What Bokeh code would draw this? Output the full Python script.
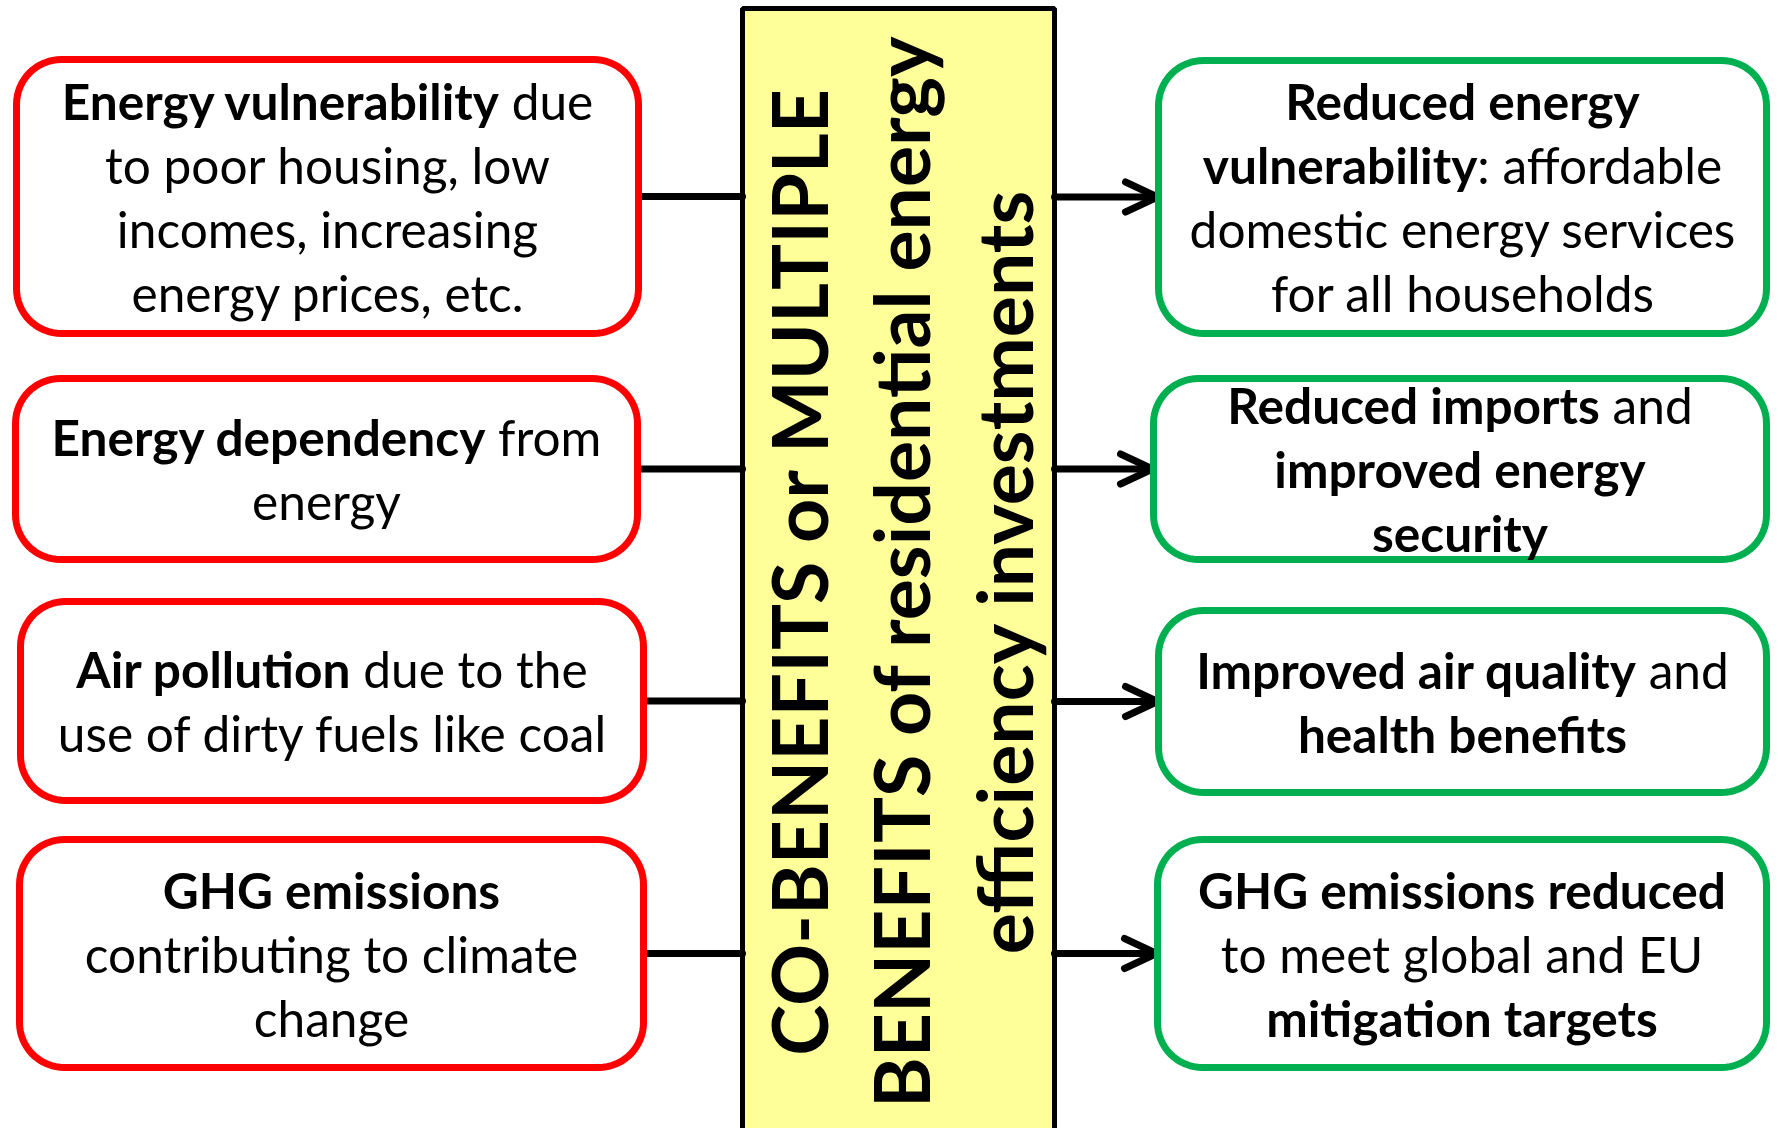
import os
import subprocess
import math
from bokeh.plotting import figure
from bokeh.models import Range1d, ColumnDataSource
from bokeh.core.properties import value
from bokeh.embed import file_html
from bokeh.resources import INLINE

# ---------------- texts (data) ----------------
left_texts = [
    ["**Energy vulnerability** due", "to poor housing, low", "incomes, increasing", "energy prices, etc."],
    ["**Energy dependency** from", "energy"],
    ["**Air pollution** due to the", "use of dirty fuels like coal"],
    ["**GHG emissions**", "contributing to climate", "change"],
]
right_texts = [
    ["**Reduced energy**", "**vulnerability**: affordable", "domestic energy services", "for all households"],
    ["**Reduced imports** and", "**improved energy**", "**security**"],
    ["**Improved air quality** and", "**health benefits**"],
    ["**GHG emissions reduced**", "to meet global and EU", "**mitigation targets**"],
]
center_lines = ["CO-BENEFITS or MULTIPLE", "BENEFITS of residential energy", "efficiency investments"]

# ---------------- layout ----------------
W, H = 1770, 1128
left_boxes = [(16, 59, 638, 333), (15, 378, 637, 559), (20, 601, 643, 800), (19, 839, 643, 1067)]
right_boxes = [(1158, 60, 1766, 333), (1153, 378, 1766, 559), (1158, 610, 1766, 792), (1157, 839, 1766, 1067)]
center_box = (742, 8, 1054, 1133)
center_baseline_x = [825, 927, 1030]
center_mid_y = 571
LINE_GAP = 64
RADIUS = 45
RED = "#FF0000"
GREEN = "#00B050"
YELLOW = "#FFFF99"

# ---------------- font measuring ----------------
try:
    from PIL import ImageFont
except Exception:
    ImageFont = None


def find_font(family, bold):
    pat = f"{family}:style={'Bold' if bold else 'Regular'}"
    try:
        r = subprocess.run(["fc-match", "-f", "%{family}|%{file}", pat],
                           capture_output=True, text=True, timeout=10)
        fam, path = r.stdout.split("|", 1)
        path = path.strip()
        if family.lower() in fam.lower() and os.path.exists(path):
            return path
    except Exception:
        pass
    return None


_fonts = {}


def text_width(s, family, bold, size):
    key = (family, bold)
    if key not in _fonts:
        f = None
        path = find_font(family, bold)
        if path and ImageFont is not None:
            try:
                f = ImageFont.truetype(path, 200)
            except Exception:
                f = None
        _fonts[key] = f
    f = _fonts[key]
    if f is not None:
        return f.getlength(s) * size / 200.0
    return len(s) * size * (0.53 if bold else 0.49)


BOX_FONT = "Lato"


def parse(line):
    parts = line.split("**")
    return [(part, i % 2 == 1) for i, part in enumerate(parts) if part]


def line_width(line, size):
    return sum(text_width(s, BOX_FONT, b, size) for s, b in parse(line))


targets = {"**Energy vulnerability** due": 535, "use of dirty fuels like coal": 547,
           "domestic energy services": 543}
ratios = [w / line_width(t, 100) * 100 for t, w in targets.items()]
FS = round(sum(ratios) / len(ratios), 1)

CENTER_FONT = "Lato"
cfs_len = 1075 / text_width(center_lines[1], CENTER_FONT, True, 100) * 100
cfs_cap = 55 / 0.7165
CFS = round(0.6 * cfs_len + 0.4 * cfs_cap, 1)
CAP = 0.7165


def rrect(x0, y0, x1, y1, r, n=16):
    xs, ys = [], []
    specs = [((x1 - r, y0 + r), 90, 0), ((x1 - r, y1 - r), 0, -90),
             ((x0 + r, y1 - r), -90, -180), ((x0 + r, y0 + r), 180, 90)]
    for (cx, cy), a0, a1 in specs:
        for k in range(n + 1):
            t = math.radians(a0 + (a1 - a0) * k / n)
            xs.append(cx + r * math.cos(t))
            ys.append(cy - r * math.sin(t))
    return xs, ys


# ---------------- figure ----------------
p = figure(width=W, height=H, x_range=Range1d(0, W), y_range=Range1d(H, 0),
           output_backend="svg", toolbar_location=None, min_border=0)
p.xaxis.visible = False
p.yaxis.visible = False
p.xgrid.visible = False
p.ygrid.visible = False
p.outline_line_color = None
p.background_fill_color = "white"
p.border_fill_color = "white"

# central yellow box
cx0, cy0, cx1, cy1 = center_box
p.quad(left=[cx0], right=[cx1], top=[cy0], bottom=[cy1], fill_color=YELLOW,
       line_color="black", line_width=5)

# connectors and arrows
seg_x, seg_y = [], []
for (x0, y0, x1, y1) in left_boxes:
    yc = (y0 + y1) / 2
    seg_x.append([x1, cx0])
    seg_y.append([yc, yc])
for (x0, y0, x1, y1) in right_boxes:
    yc = (y0 + y1) / 2
    tip = x0 - 1
    seg_x.append([cx1, tip])
    seg_y.append([yc, yc])
    seg_x.append([tip - 32, tip, tip - 32])
    seg_y.append([yc - 15, yc, yc + 15])
p.multi_line(seg_x, seg_y, line_color="black", line_width=7, line_cap="round", line_join="round")

# boxes
bxs, bys, bcols = [], [], []
for boxes, col in [(left_boxes, RED), (right_boxes, GREEN)]:
    for b in boxes:
        xs, ys = rrect(*b, RADIUS)
        bxs.append(xs)
        bys.append(ys)
        bcols.append(col)
p.patches(bxs, bys, fill_color="white", line_color=bcols, line_width=7, line_join="round")

# box texts
norm = dict(x=[], y=[], text=[])
bold = dict(x=[], y=[], text=[])
for boxes, texts in [(left_boxes, left_texts), (right_boxes, right_texts)]:
    for (x0, y0, x1, y1), lines in zip(boxes, texts):
        cx = (x0 + x1) / 2
        cy = (y0 + y1) / 2
        n = len(lines)
        for i, line in enumerate(lines):
            ymid = cy + (i - (n - 1) / 2) * LINE_GAP
            x = cx - line_width(line, FS) / 2
            for s, b in parse(line):
                lead = len(s) - len(s.lstrip(" "))
                xs = x + text_width(s[:lead], BOX_FONT, b, FS)
                d = bold if b else norm
                d["x"].append(xs)
                d["y"].append(ymid)
                d["text"].append(s.strip(" "))
                x += text_width(s, BOX_FONT, b, FS)

for d, style in [(norm, "normal"), (bold, "bold")]:
    p.text(x="x", y="y", text="text", source=ColumnDataSource(d),
           text_font=value(BOX_FONT), text_font_style=style, text_font_size=f"{FS}px",
           text_align="left", text_baseline="middle", text_color="black")

# central rotated text
cx_mid = [bx - CAP * CFS / 2 for bx in center_baseline_x]
p.text(x=cx_mid, y=[center_mid_y] * len(center_lines), text=center_lines,
       angle=math.pi / 2, text_font=value(CENTER_FONT), text_font_style="bold",
       text_font_size=f"{CFS}px", text_align="center", text_baseline="middle",
       text_color="black")

open("out.html", "w").write(file_html(p, INLINE))
